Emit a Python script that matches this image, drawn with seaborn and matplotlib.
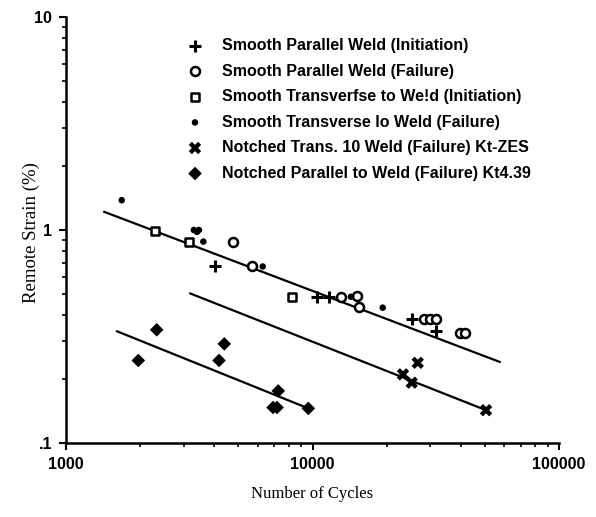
import matplotlib
matplotlib.use("Agg")
import matplotlib.pyplot as plt
from matplotlib.ticker import LogLocator, NullFormatter
import seaborn as sns
import pandas as pd

# Strain-life test results (cycles, remote strain %)
spw_init_cycles = [4020, 10400, 11670, 25440, 31700]
spw_init_strain = [0.679, 0.483, 0.483, 0.384, 0.334]

spw_fail_cycles = [4745, 5670, 13010, 15100, 15390, 28300, 29970, 31700, 39650, 41560]
spw_fail_strain = [0.882, 0.674, 0.483, 0.491, 0.433, 0.384, 0.384, 0.384, 0.330, 0.330]

stw_init_cycles = [2296, 3164, 8234]
stw_init_strain = [0.99, 0.882, 0.486]

stw_fail_cycles = [1683, 3300, 3400, 3460, 3607, 6280, 14320, 19270]
stw_fail_strain = [1.38, 1.0, 0.98, 1.0, 0.882, 0.674, 0.486, 0.432]

ntw_fail_cycles = [23280, 25260, 26720, 50580]
ntw_fail_strain = [0.210, 0.192, 0.238, 0.1426]

npw_fail_cycles = [1965, 2333, 4176, 4386, 7262, 6917, 7180, 9615]
npw_fail_strain = [0.244, 0.340, 0.244, 0.292, 0.1756, 0.1468, 0.1468, 0.1454]

# Fitted trend lines: (start cycles, end cycles), (start strain, end strain)
fit_smooth_cycles = [1426, 57630]
fit_smooth_strain = [1.218, 0.240]
fit_ntw_cycles = [3186, 50580]
fit_ntw_strain = [0.504, 0.1426]
fit_npw_cycles = [1606, 9615]
fit_npw_strain = [0.335, 0.1454]

labels = [
    "Smooth Parallel Weld (Initiation)",
    "Smooth Parallel Weld (Failure)",
    "Smooth Transverfse to We!d (Initiation)",
    "Smooth Transverse lo Weld (Failure)",
    "Notched Trans. 10 Weld (Failure) Kt-ZES",
    "Notched Parallel to Weld (Failure) Kt4.39",
]

x_ticks = [1000, 10000, 100000]
x_ticklabels = ["1000", "10000", "100000"]
y_ticks = [0.1, 1, 10]
y_ticklabels = [".1", "1", "10"]

sns.set_style("ticks")
plt.rcParams["font.family"] = ["Liberation Sans", "DejaVu Sans"]

fig = plt.figure(figsize=(5.96, 5.17), dpi=100)
ax = fig.add_axes([66 / 596, 1 - 443 / 517, (559 - 66) / 596, (443 - 17) / 517])
ax.set_xscale("log")
ax.set_yscale("log")

series = [
    (spw_init_cycles, spw_init_strain, dict(marker="+", s=75, color="black", linewidth=2.2)),
    (spw_fail_cycles, spw_fail_strain, dict(marker="o", s=42, facecolor="white", edgecolor="black", linewidth=1.8)),
    (stw_init_cycles, stw_init_strain, dict(marker="s", s=36, facecolor="white", edgecolor="black", linewidth=1.8)),
    (stw_fail_cycles, stw_fail_strain, dict(marker="o", s=22, color="black", edgecolor="none")),
    (ntw_fail_cycles, ntw_fail_strain, dict(marker="X", s=80, color="black", edgecolor="none")),
    (npw_fail_cycles, npw_fail_strain, dict(marker="D", s=48, color="black", edgecolor="none")),
]

for (cx, sy, kw), lab in zip(series, labels):
    df = pd.DataFrame({"cycles": cx, "strain": sy})
    sns.scatterplot(data=df, x="cycles", y="strain", ax=ax, label=lab, zorder=3, **kw)

for fx, fy in [(fit_smooth_cycles, fit_smooth_strain),
               (fit_ntw_cycles, fit_ntw_strain),
               (fit_npw_cycles, fit_npw_strain)]:
    sns.lineplot(x=fx, y=fy, ax=ax, color="black", linewidth=1.6, zorder=2)

ax.set_xlim(1000, 100000)
ax.set_ylim(0.1, 10)

for side in ("top", "right"):
    ax.spines[side].set_visible(False)
for side in ("left", "bottom"):
    ax.spines[side].set_linewidth(1.8)
    ax.spines[side].set_color("black")

ax.set_xticks(x_ticks, x_ticklabels)
ax.set_yticks(y_ticks, y_ticklabels)
ax.xaxis.set_minor_locator(LogLocator(base=10, subs=range(2, 10)))
ax.yaxis.set_minor_locator(LogLocator(base=10, subs=range(2, 10)))
ax.xaxis.set_minor_formatter(NullFormatter())
ax.yaxis.set_minor_formatter(NullFormatter())
ax.tick_params(which="major", direction="out", length=5, width=1.5, color="black",
               labelsize=11.5, pad=5)
ax.tick_params(which="minor", direction="out", length=3, width=1.2, color="black")
for t in ax.get_xticklabels() + ax.get_yticklabels():
    t.set_fontweight("bold")
    t.set_color("black")

ax.set_xlabel("Number of Cycles", family=["Liberation Serif"], fontsize=12, color="black")
ax.set_ylabel("Remote Strain (%)", family=["Liberation Serif"], fontsize=13.5, color="black")
ax.xaxis.set_label_coords(0.5, -0.101)
ax.xaxis.label.set_va("top")
ax.yaxis.set_label_coords(-0.053, 0.493)

handles, hl = ax.get_legend_handles_labels()
leg = ax.legend(handles, hl, loc="upper left", bbox_to_anchor=(187 / 596, 1 - 38 / 517),
                bbox_transform=fig.transFigure, frameon=False, borderpad=0, borderaxespad=0,
                handlelength=1.0, handletextpad=1.2, labelspacing=0.66,
                prop=dict(family="Liberation Sans", weight="bold", size=11.5))
for t in leg.get_texts():
    t.set_color("black")

fig.savefig("out.png", dpi=100, facecolor="white")
